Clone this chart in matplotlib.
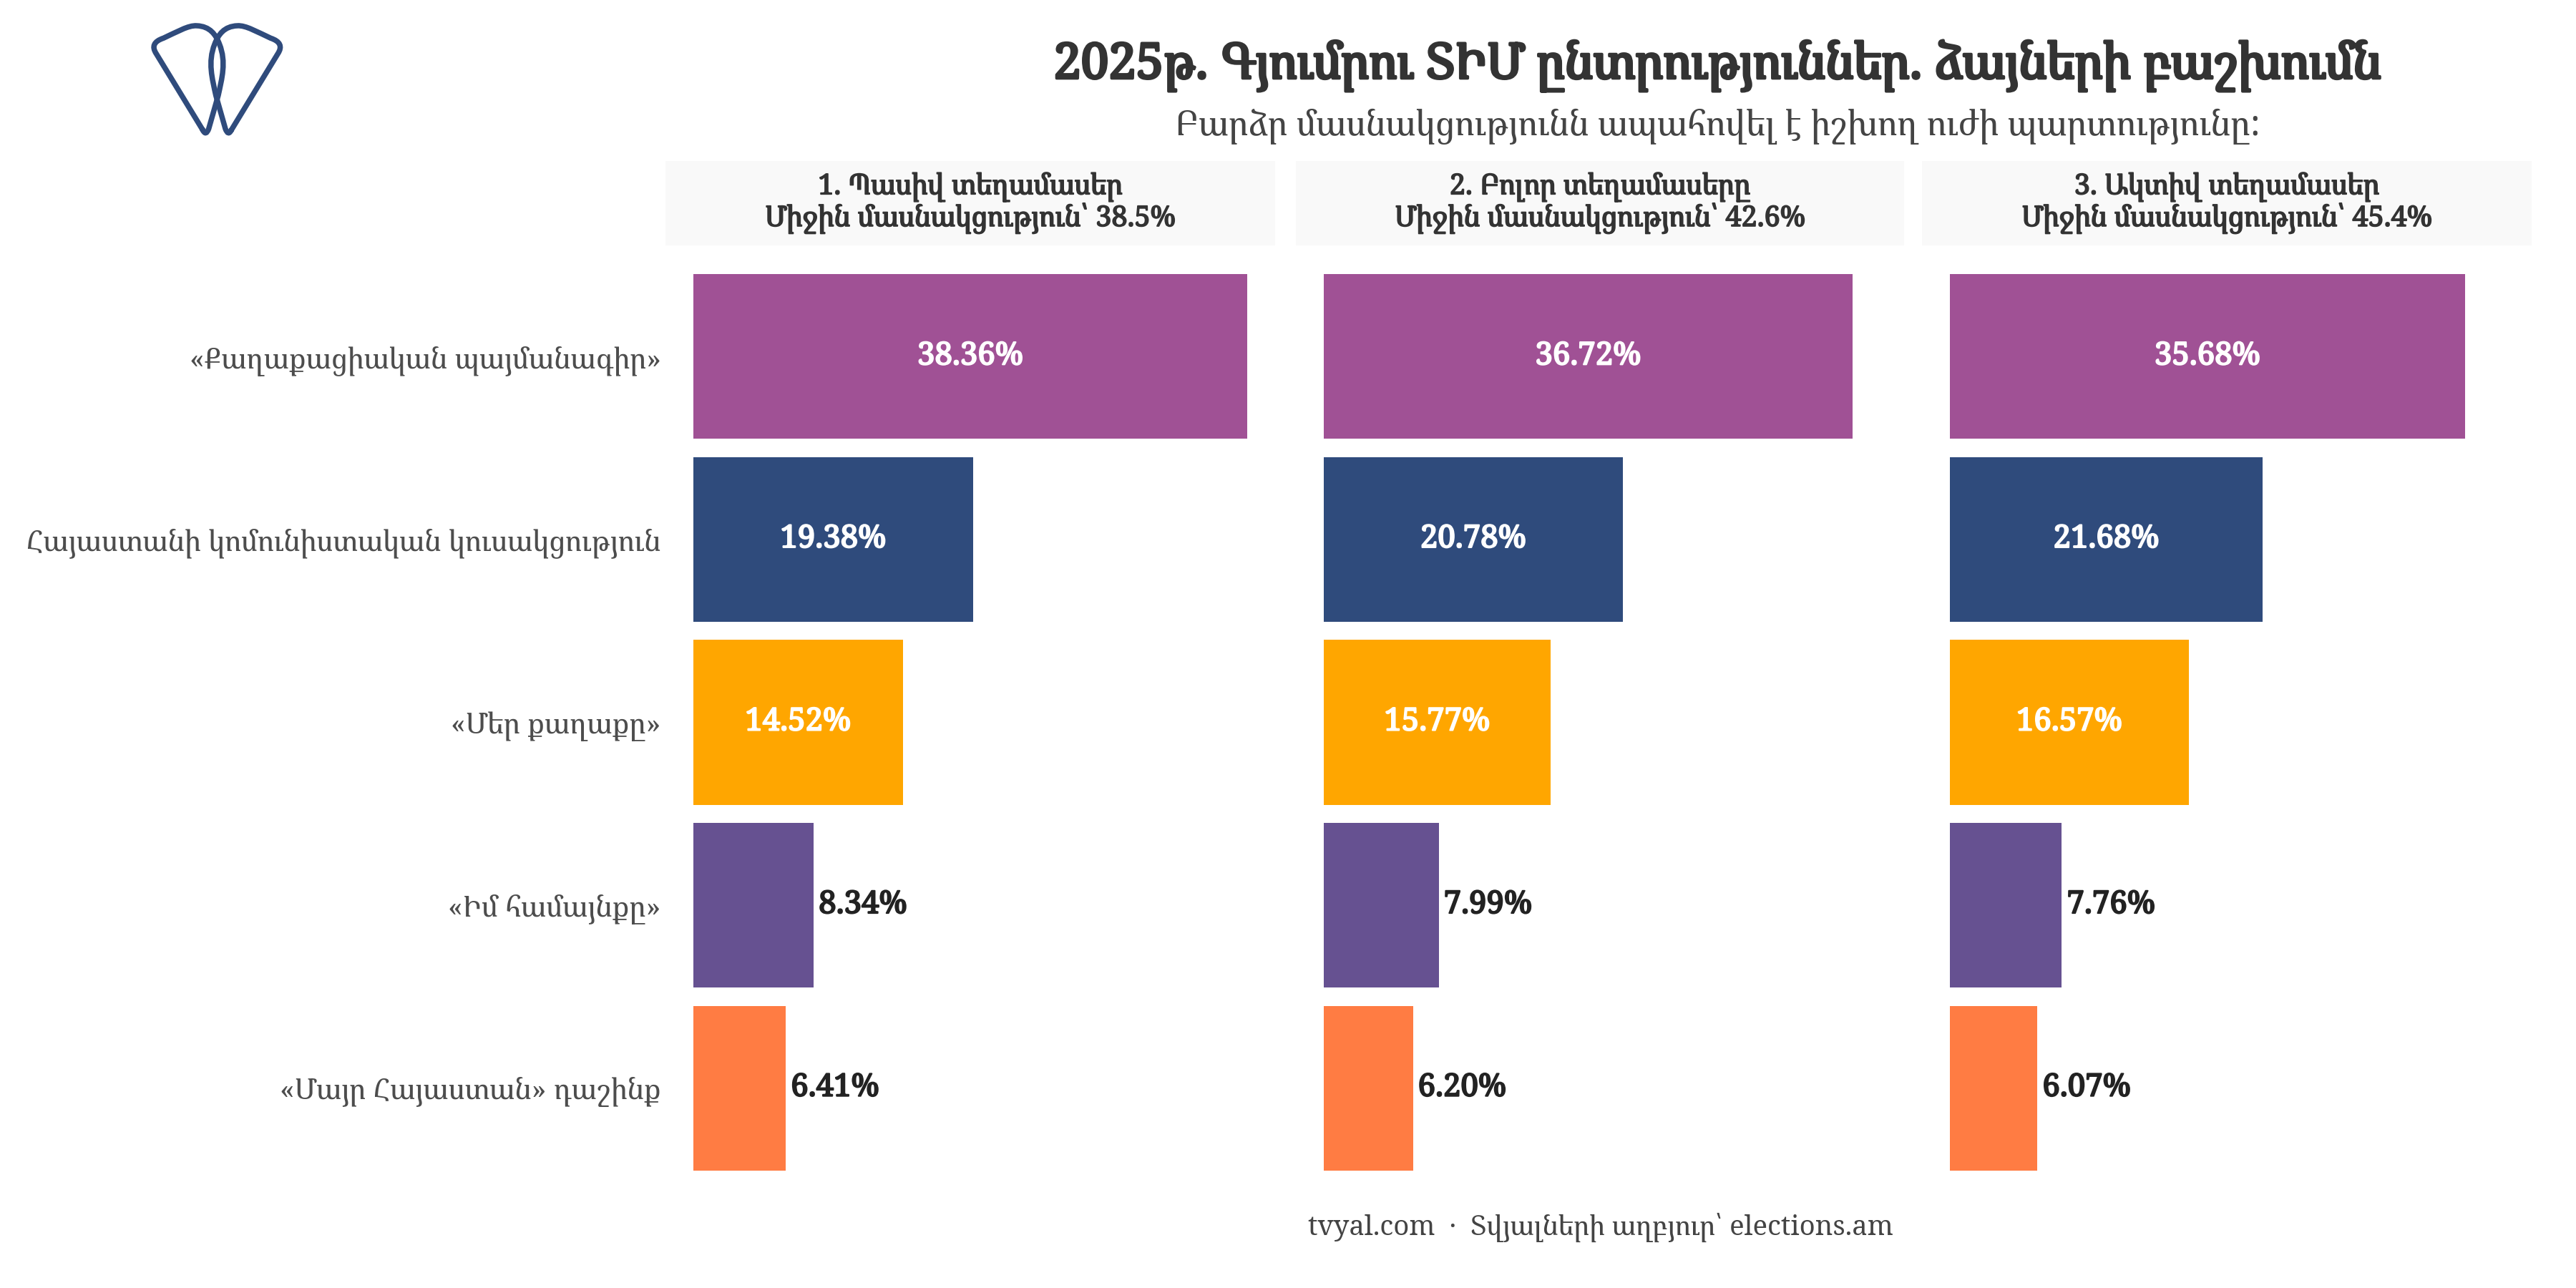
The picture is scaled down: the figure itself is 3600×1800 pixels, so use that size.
import matplotlib
matplotlib.use("Agg")
import matplotlib.pyplot as plt
import matplotlib.patheffects as pe
from matplotlib.path import Path
from matplotlib.patches import PathPatch

# data
parties = ["«Քաղաքացիական պայմանագիր»",
           "Հայաստանի կոմունիստական կուսակցություն",
           "«Մեր քաղաքը»",
           "«Իմ համայնքը»",
           "«Մայր Հայաստան» դաշինք"]
colors = ["#A05195", "#2F4B7C", "#FFA600", "#665191", "#FF7C43"]

panel_titles = ["1. Պասիվ տեղամասեր\nՄիջին մասնակցություն՝ 38.5%",
                "2. Բոլոր տեղամասերը\nՄիջին մասնակցություն՝ 42.6%",
                "3. Ակտիվ տեղամասեր\nՄիջին մասնակցություն՝ 45.4%"]
passive = [38.36, 19.38, 14.52, 8.34, 6.41]
all_st = [36.72, 20.78, 15.77, 7.99, 6.20]
active = [35.68, 21.68, 16.57, 7.76, 6.07]

title = "2025թ. Գյումրու ՏԻՄ ընտրություններ. ձայների բաշխումն"
subtitle = "Բարձր մասնակցությունն ապահովել է իշխող ուժի պարտությունը:"
caption = "tvyal.com  ·  Տվյալների աղբյուր՝ elections.am"

plt.rcParams["font.family"] = ["Noto Serif Armenian", "Noto Serif", "DejaVu Serif"]

W, H = 3600, 1800
fig = plt.figure(figsize=(12, 6), dpi=300)


def fx(px):
    return px / W


def fy(py):
    return 1 - py / H


def bold(c, w=0.5):
    # fake a heavier weight, the armenian font only has the regular cut here
    return [pe.Stroke(linewidth=w, foreground=c), pe.Normal()]


panel_x = [(930, 1782), (1811, 2661), (2686, 3538)]
top, bottom = 345, 1674
strip_top = 225

xmax = max(passive + all_st + active)
series = [passive, all_st, active]
y = list(range(len(parties)))

for i, (vals, pt) in enumerate(zip(series, panel_titles)):
    x0, x1 = panel_x[i]
    ax = fig.add_axes([fx(x0), fy(bottom), fx(x1 - x0), (bottom - top) / H])
    ax.barh(y, vals, height=0.9, color=colors)
    ax.set_xlim(-0.05 * xmax, 1.05 * xmax)
    ax.set_ylim(len(parties) - 0.4, -0.6)
    for s in ax.spines.values():
        s.set_visible(False)
    ax.set_xticks([])
    ax.tick_params(axis="y", length=0, pad=1.5)
    if i == 0:
        ax.set_yticks(y)
        ax.set_yticklabels(parties, fontsize=9.7, color="#4D4D4D")
    else:
        ax.set_yticks([])
    for yy, v in zip(y, vals):
        if v > 10:
            ax.text(v / 2, yy, f"{v:.2f}%", ha="center", va="center", color="white",
                    fontsize=10.5, path_effects=bold("white"))
        else:
            ax.text(v + 0.35, yy, f"{v:.2f}%", ha="left", va="center", color="#222222",
                    fontsize=10.5, path_effects=bold("#222222"))

    sax = fig.add_axes([fx(x0), fy(top - 2), fx(x1 - x0), (top - 2 - strip_top) / H])
    sax.set_facecolor("#F9F9F9")
    sax.set_xticks([])
    sax.set_yticks([])
    for s in sax.spines.values():
        s.set_visible(False)
    sax.text(0.5, 0.5, pt, ha="center", va="center", fontsize=9.5, color="#333333",
             linespacing=1.05, path_effects=bold("#333333", 0.4))

fig.text(fx(2400), fy(92), title, ha="center", va="center", fontsize=16.5,
         color="#333333", path_effects=bold("#333333", 0.9))
fig.text(fx(2400), fy(177), subtitle, ha="center", va="center", fontsize=11.6,
         color="#444444")
fig.text(fx(2237), fy(1715), caption, ha="center", va="center", fontsize=9.2,
         color="#444444")

# logo
def lp(zx, zy):
    return (fx(150 + zx / 3), fy(zy / 3))


left = [(400, 545), (205, 225), (175, 180), (235, 160),
        (290, 135), (340, 105), (375, 108),
        (430, 110), (455, 145), (470, 185),
        (500, 260), (480, 330), (465, 400),
        (425, 540), (413, 572), (400, 545)]
codes = [Path.MOVETO, Path.LINETO, Path.CURVE3, Path.CURVE3,
         Path.CURVE4, Path.CURVE4, Path.CURVE4,
         Path.CURVE4, Path.CURVE4, Path.CURVE4,
         Path.CURVE4, Path.CURVE4, Path.CURVE4,
         Path.LINETO, Path.CURVE3, Path.CURVE3]
for pts in (left, [(920 - a, b) for a, b in left]):
    p = Path([lp(a, b) for a, b in pts], codes)
    fig.patches.append(PathPatch(p, transform=fig.transFigure, fill=False,
                                 edgecolor="#2F4B7C", lw=1.8, capstyle="round",
                                 joinstyle="round"))

fig.savefig("out.png", dpi=300, facecolor="white")
